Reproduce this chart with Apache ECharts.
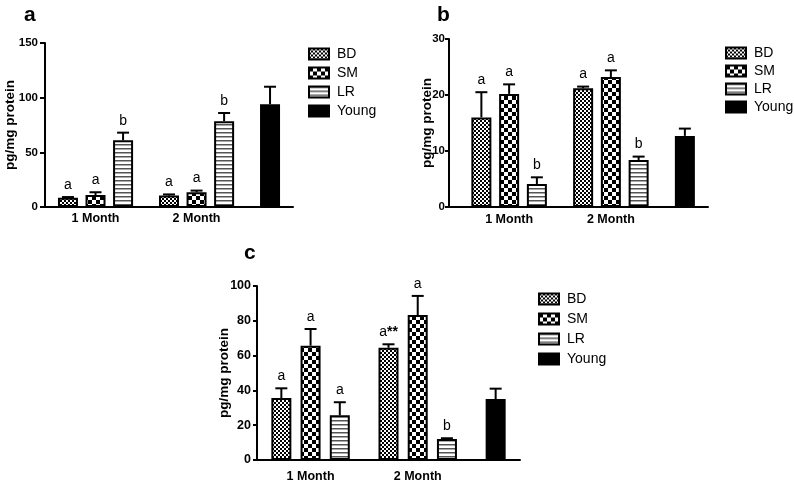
<!DOCTYPE html>
<html style="height: 100%">
<head>
    <meta charset="utf-8">
    <title>pg/mg protein - three panels</title>
    <script src="https://cdn.jsdelivr.net/npm/echarts@6/dist/echarts.min.js"></script>
</head>
<body style="margin: 0; height: 100%; background: #fff">
    <div id="main" style="width: 794px; height: 481px"></div>
    <script>
        const months = ['1 Month', '2 Month'];
        const groups = ['BD', 'SM', 'LR', 'Young'];

        // panel a
        const aBD = [8.5, 10.5];
        const aSM = [11, 13.5];
        const aLR = [61, 78.5];
        const aYoung = [94];
        const aBDErr = [0.6, 1];
        const aSMErr = [2.5, 1.5];
        const aLRErr = [7, 7.5];
        const aYoungErr = [16];
        const aBDSig = ['a', 'a'];
        const aSMSig = ['a', 'a'];
        const aLRSig = ['b', 'b'];
        const aYTicks = [0, 50, 100, 150];

        // panel b
        const bBD = [16, 21.2];
        const bSM = [20.2, 23.2];
        const bLR = [4.1, 8.4];
        const bYoung = [12.7];
        const bBDErr = [4.5, 0.3];
        const bSMErr = [1.7, 1.2];
        const bLRErr = [1.2, 0.6];
        const bYoungErr = [1.3];
        const bBDSig = ['a', 'a'];
        const bSMSig = ['a', 'a'];
        const bLRSig = ['b', 'b'];
        const bYTicks = [0, 10, 20, 30];

        // panel c
        const cBD = [35.6, 64.5];
        const cSM = [65.7, 83.3];
        const cLR = [25.7, 12];
        const cYoung = [35];
        const cBDErr = [5.6, 2];
        const cSMErr = [9.6, 11];
        const cLRErr = [7.5, 0.5];
        const cYoungErr = [6];
        const cBDSig = ['a', 'a**'];
        const cSMSig = ['a', 'a'];
        const cLRSig = ['a', 'b'];
        const cYTicks = [0, 20, 40, 60, 80, 100];

        const FONT = '"Liberation Sans", Arial, Helvetica, sans-serif';

        function pattern(w, h, draw) {
            const c = document.createElement('canvas');
            c.width = w;
            c.height = h;
            const ctx = c.getContext('2d');
            ctx.fillStyle = '#fff';
            ctx.fillRect(0, 0, w, h);
            draw(ctx);
            return { image: c, repeat: 'repeat' };
        }

        const fills = [
            // BD: fine checker
            pattern(4, 4, ctx => {
                ctx.fillStyle = '#000';
                ctx.fillRect(0, 0, 2, 2);
                ctx.fillRect(2, 2, 2, 2);
            }),
            // SM: coarse checker
            pattern(8, 8, ctx => {
                ctx.fillStyle = '#000';
                ctx.fillRect(0, 0, 4, 4);
                ctx.fillRect(4, 4, 4, 4);
            }),
            // LR: horizontal stripes
            pattern(4, 4, ctx => {
                ctx.fillStyle = '#555';
                ctx.fillRect(0, 0, 4, 1);
                ctx.fillStyle = '#aaa';
                ctx.fillRect(0, 1, 4, 1);
            }),
            '#000'
        ];

        const panels = [
            {
                key: 'a', lead: 2, grid: { left: 45, top: 43, width: 248, height: 164 },
                title: { left: 24, top: 5 }, legend: { left: 308, top: 47, itemGap: 5 },
                means: [aBD, aSM, aLR, aYoung], errs: [aBDErr, aSMErr, aLRErr, aYoungErr],
                sigs: [aBDSig, aSMSig, aLRSig, ['']], ticks: aYTicks,
                nameGap: 28, tickLen: 5, labelMargin: 7, labelSize: 11.5, xMargin: 5
            },
            {
                key: 'b', lead: 3, grid: { left: 449, top: 39, width: 259, height: 168 },
                title: { left: 437, top: 5 }, legend: { left: 725, top: 46, itemGap: 4 },
                means: [bBD, bSM, bLR, bYoung], errs: [bBDErr, bSMErr, bLRErr, bYoungErr],
                sigs: [bBDSig, bSMSig, bLRSig, ['']], ticks: bYTicks,
                nameGap: 15, tickLen: 4, labelMargin: 4, labelSize: 11.5, xMargin: 6
            },
            {
                key: 'c', lead: 2, grid: { left: 257, top: 286, width: 263, height: 174 },
                title: { left: 244, top: 243 }, legend: { left: 538, top: 292, itemGap: 6 },
                means: [cBD, cSM, cLR, cYoung], errs: [cBDErr, cSMErr, cLRErr, cYoungErr],
                sigs: [cBDSig, cSMSig, cLRSig, ['']], ticks: cYTicks,
                nameGap: 26, tickLen: 4, labelMargin: 6, labelSize: 12.5, xMargin: 10
            }
        ];

        const option = {
            animation: false,
            backgroundColor: '#fff',
            title: [], legend: [], grid: [], xAxis: [], yAxis: [], series: []
        };

        panels.forEach((p, pi) => {
            // slots: 3 bars per month spaced 3 slots apart, 5 slots between months
            const slotOf = (g, k) => p.lead + g * 11 + k * 3;
            const youngSlot = p.lead + 22;
            const n = youngSlot + 3;
            const catLabels = new Array(n).fill('');
            months.forEach((m, g) => { catLabels[slotOf(g, 1)] = m; });

            option.title.push({
                text: p.key, left: p.title.left, top: p.title.top, padding: 0,
                textStyle: { fontFamily: FONT, fontSize: 21, fontWeight: 'bold', color: '#000' }
            });
            option.legend.push({
                data: groups, orient: 'vertical', left: p.legend.left, top: p.legend.top,
                padding: 0,
                itemWidth: 20, itemHeight: 11, itemGap: p.legend.itemGap, selectedMode: false,
                icon: 'rect',
                itemStyle: { borderColor: '#000', borderWidth: 2 },
                textStyle: { fontFamily: FONT, fontSize: 14, color: '#000', padding: [0, 0, 0, 3] }
            });
            option.grid.push(Object.assign({ containLabel: false, outerBoundsMode: 'none' }, p.grid));
            option.xAxis.push({
                type: 'category', gridIndex: pi,
                data: catLabels.map((_, i) => String(i)),
                axisLine: { lineStyle: { color: '#000', width: 2 } },
                axisTick: { show: false },
                axisLabel: {
                    interval: 0, margin: p.xMargin, color: '#000', fontFamily: FONT,
                    fontSize: 12.5, fontWeight: 'bold',
                    formatter: (v, i) => catLabels[i]
                }
            });
            const ticks = p.ticks;
            option.yAxis.push({
                type: 'value', gridIndex: pi,
                min: ticks[0], max: ticks[ticks.length - 1], interval: ticks[1] - ticks[0],
                name: 'pg/mg protein', nameLocation: 'middle', nameGap: p.nameGap,
                nameMoveOverlap: false,
                nameTextStyle: { fontFamily: FONT, fontSize: 13.5, fontWeight: 'bold', color: '#000' },
                axisLine: { show: true, lineStyle: { color: '#000', width: 2 } },
                axisTick: { show: true, length: p.tickLen, lineStyle: { color: '#000', width: 2 } },
                axisLabel: {
                    margin: p.labelMargin, color: '#000', fontFamily: FONT,
                    fontSize: p.labelSize, fontWeight: 'bold'
                },
                splitLine: { show: false }
            });

            const errData = [];
            const errSig = [];
            groups.forEach((name, k) => {
                const data = new Array(n).fill(null);
                p.means[k].forEach((v, g) => {
                    const s = k === 3 ? youngSlot : slotOf(g, k);
                    data[s] = v;
                    errData.push([s, v, p.errs[k][g]]);
                    errSig.push(p.sigs[k][g]);
                });
                option.series.push({
                    name, type: 'bar', xAxisIndex: pi, yAxisIndex: pi,
                    barWidth: 20, barGap: '-100%',
                    itemStyle: { color: fills[k], borderColor: '#000', borderWidth: 2 },
                    data
                });
            });

            option.series.push({
                type: 'custom', xAxisIndex: pi, yAxisIndex: pi, z: 5,
                encode: { x: 0, y: 1 },
                data: errData,
                renderItem: (params, api) => {
                    const x = api.value(0);
                    const m = api.value(1);
                    const e = api.value(2);
                    const top = api.coord([x, m]);
                    const cap = api.coord([x, m + e]);
                    const sig = errSig[params.dataIndex];
                    const parts = sig.split('**');
                    const txt = parts.length > 1 ? '{m|' + parts[0] + '}{s|**}' : '{m|' + sig + '}';
                    return {
                        type: 'group',
                        children: [
                            { type: 'line', shape: { x1: top[0], y1: top[1], x2: cap[0], y2: cap[1] },
                              style: { stroke: '#000', lineWidth: 2 } },
                            { type: 'line', shape: { x1: cap[0] - 6, y1: cap[1], x2: cap[0] + 6, y2: cap[1] },
                              style: { stroke: '#000', lineWidth: 2 } },
                            { type: 'text', x: cap[0], y: cap[1] - 5,
                              style: {
                                  text: txt, align: 'center', verticalAlign: 'bottom',
                                  rich: {
                                      m: { fontFamily: FONT, fontSize: 14, fill: '#000', color: '#000' },
                                      s: { fontFamily: FONT, fontSize: 14, fontWeight: 'bold', fill: '#000', color: '#000' }
                                  }
                              } }
                        ]
                    };
                }
            });
        });

        const chart = echarts.init(document.getElementById('main'));
        chart.setOption(option);
    </script>
</body>
</html>
